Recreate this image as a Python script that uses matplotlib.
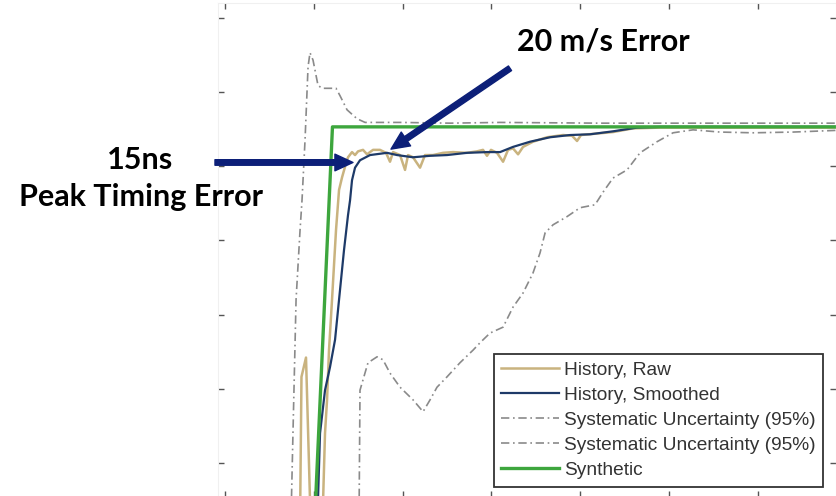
import matplotlib
matplotlib.use('Agg')
import matplotlib.pyplot as plt

# time axis in ns, velocity axis in m/s (tick labels are cropped off in the source)
synthetic_t = [10.1, 12.1, 70.0]
synthetic_v = [-77, 453, 453]

smooth_t = [10.47, 10.70, 11.26, 11.82, 12.39, 12.84, 13.40, 13.85, 14.08, 14.30, 14.64, 15.20,
            16.33, 18.24, 19.37, 21.17, 23.09, 25.0, 27.25, 29.5, 30.97, 32.43, 34.35, 36.6,
            38.85, 41.1, 43.69, 46.4, 48.99, 70.4]
smooth_v = [-50, 40, 98, 129, 166, 220, 287, 334, 354, 381, 398, 408,
            415, 418, 415, 412, 414, 415, 418, 419, 419, 426, 433, 439,
            442, 443, 447, 452, 453, 453]

raw_t = [8.45, 8.61, 9.12, 9.57, 9.80, 10.98, 11.26, 11.49, 11.71, 12.05, 12.5, 12.84,
         13.18, 13.51, 13.85, 14.30, 14.64, 14.98, 15.54, 15.99, 16.67, 17.45, 18.13, 18.58,
         18.92, 19.71, 20.27, 20.61, 21.17, 21.96, 22.52, 23.42, 24.55, 25.68, 27.25, 28.38,
         29.05, 29.5, 29.95, 30.63, 31.31, 31.87, 32.43, 33.0, 33.56, 34.68, 36.26, 38.06,
         39.08, 39.64, 40.09, 43.69, 45.95, 48.99, 70.4]
raw_v = [-77, 116, 142, -50, -77, -77, 40, 85, 152, 220, 314, 368,
         385, 399, 412, 419, 415, 420, 422, 416, 422, 422, 418, 406,
         419, 415, 395, 415, 412, 398, 415, 415, 418, 419, 418, 420,
         422, 414, 422, 418, 406, 422, 424, 416, 426, 433, 439, 442,
         441, 434, 442, 446, 451, 452, 452]

upper_t = [7.43, 7.66, 8.0, 8.45, 8.67, 9.01, 9.35, 9.57, 9.91, 10.47, 10.92, 12.5,
           12.95, 13.74, 14.86, 15.77, 19.71, 25.34, 30.97, 42.23, 53.49, 70.4]
upper_v = [-77, 44, 220, 314, 354, 435, 534, 553, 543, 509, 505, 505,
           495, 476, 464, 459, 459, 458, 459, 458, 458, 458]

lower_t = [15.09, 15.2, 15.54, 16.1, 17.12, 17.79, 18.58, 19.71, 21.17, 22.3, 23.09, 23.87,
           25.0, 26.46, 27.93, 28.72, 29.84, 31.31, 32.43, 33.56, 34.68, 35.47, 36.04, 36.94,
           38.51, 39.98, 41.67, 42.57, 43.69, 45.27, 46.73, 48.65, 50.45, 52.7, 55.74, 59.46,
           63.96, 70.4]
lower_v = [-77, 98, 112, 135, 143, 139, 121, 102, 85, 69, 85, 102,
           116, 135, 152, 162, 175, 183, 210, 229, 256, 283, 310, 321,
           332, 344, 348, 365, 384, 395, 418, 433, 445, 449, 446, 445,
           446, 449]

x_ticks = [0, 10, 20, 30, 40, 50, 60]
y_ticks = [0, 100, 200, 300, 400, 500, 600]

labels = ['History, Raw', 'History, Smoothed', 'Systematic Uncertainty (95%)',
          'Systematic Uncertainty (95%)', 'Synthetic']

fig = plt.figure(figsize=(8.36, 4.96), dpi=100)
ax = fig.add_axes([218 / 836, -1 / 496, 618 / 836, 494 / 496])

dashdot = (0, (5, 2.2, 1, 2.2))
ax.plot(raw_t, raw_v, color='#c9b37f', lw=1.8, label=labels[0])
ax.plot(smooth_t, smooth_v, color='#1e3a68', lw=1.6, label=labels[1])
ax.plot(upper_t, upper_v, color='#8a8a8a', lw=1.2, ls=dashdot, label=labels[2])
ax.plot(lower_t, lower_v, color='#8a8a8a', lw=1.2, ls=dashdot, label=labels[3])
ax.plot(synthetic_t, synthetic_v, color='#3da63d', lw=2.4, label=labels[4])

ax.set_xlim(-0.79, 68.8)
ax.set_ylim(-46, 620)
ax.set_xticks(x_ticks)
ax.set_yticks(y_ticks)
ax.tick_params(direction='in', length=4, width=1, color='#555555',
               top=True, right=True, labelbottom=False, labelleft=False)
for s in ax.spines.values():
    s.set_color('#f0f0f0')
    s.set_linewidth(0.8)

leg = ax.legend(loc='upper right', bbox_to_anchor=(0.979, 0.29), borderaxespad=0,
                fancybox=False, framealpha=1, edgecolor='#333333',
                prop={'family': 'Liberation Sans', 'size': 13.8},
                handlelength=3.0, handletextpad=0.26, labelspacing=0.4, borderpad=0.4)
leg.get_frame().set_linewidth(1.3)
for t in leg.get_texts():
    t.set_color('#333333')

# annotations
navy = '#0c1f78'
ax.annotate('', xy=(14.41, 405), xytext=(-1.13, 405), annotation_clip=False,
            arrowprops=dict(arrowstyle='simple,head_length=0.65,head_width=0.6,tail_width=0.2',
                            mutation_scale=20, color=navy, shrinkA=0, shrinkB=0))
ax.annotate('', xy=(18.69, 423), xytext=(32.09, 532), annotation_clip=False,
            arrowprops=dict(arrowstyle='simple,head_length=0.65,head_width=0.6,tail_width=0.2',
                            mutation_scale=20, color=navy, shrinkA=0, shrinkB=0))

fig.text(603 / 836, 1 - 42 / 496, '20 m/s Error', ha='center', va='center',
         fontfamily='Lato', fontweight='bold', fontsize=22)
fig.text(140 / 836, 1 - 160 / 496, '15ns', ha='center', va='center',
         fontfamily='Lato', fontweight='bold', fontsize=22)
fig.text(141 / 836, 1 - 197 / 496, 'Peak Timing Error', ha='center', va='center',
         fontfamily='Lato', fontweight='bold', fontsize=22)

fig.savefig('out.png', dpi=100)
